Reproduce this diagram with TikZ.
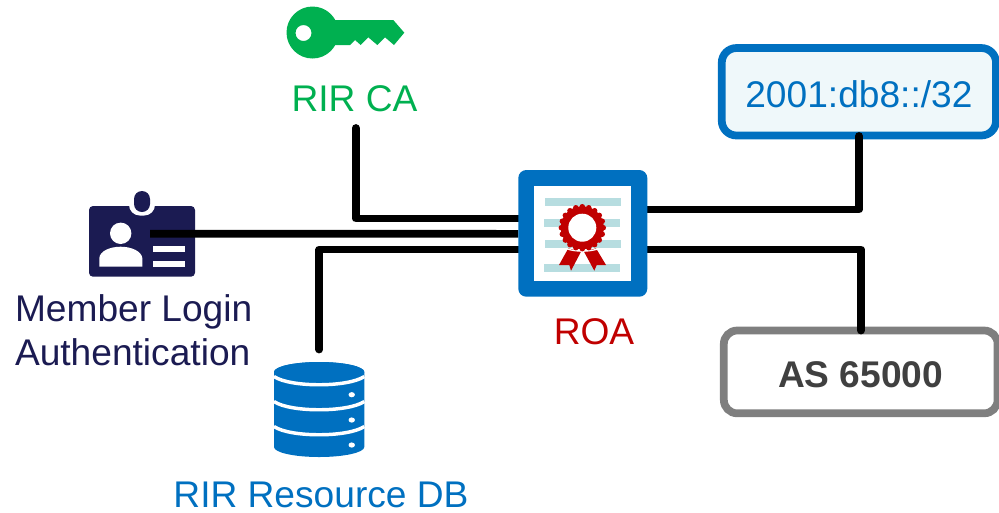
\documentclass[tikz,border=0pt]{standalone}
\usepackage{fontspec}
\setmainfont{Liberation Sans}
\usetikzlibrary{calc}
\definecolor{cgreen}{HTML}{00B050}
\definecolor{cblue}{HTML}{0070C0}
\definecolor{cnavy}{HTML}{1B1B52}
\definecolor{cred}{HTML}{C00000}
\definecolor{cteal}{HTML}{B7DDE0}
\definecolor{cpale}{HTML}{EFF8FA}
\definecolor{cgray}{HTML}{7F7F7F}
\definecolor{ctext}{HTML}{404040}
\tikzset{
  label text/.style={inner sep=0pt,outer sep=0pt,font=\fontsize{27.85}{32.4}\selectfont},
  wire/.style={draw=black,line width=5.8pt,line cap=round,line join=round},
  valuebox/.style={rounded corners=11pt,line width=5.8pt,outer sep=0pt,inner sep=0pt,align=center,font=\fontsize{27.85}{32.4}\selectfont},
}
\begin{document}
\begin{tikzpicture}[x=0.75pt,y=-0.75pt]
\useasboundingbox (0,0) rectangle (999,512);
% free ends
\coordinate (caEnd) at (355.7,128);
\coordinate (dbEnd) at (319.3,349.5);
\coordinate (badgeEnd) at (150,233.7);
% ROA frame
\node[draw=none,fill=none,minimum width=96.75pt,minimum height=95pt,inner sep=0pt,outer sep=0pt] (roa) at (582.75,233.5) {};
% value boxes
\node[valuebox,draw=cblue,fill=cpale,text=cblue,minimum width=205.7pt,minimum height=65.6pt,text height=23.4pt,text depth=0pt] (prefix) at (858.9,91.75) {2001:db8::/32};
\node[valuebox,draw=cgray,fill=white,text=ctext,minimum width=205.3pt,minimum height=62.1pt,rounded corners=10pt,text height=23.2pt,text depth=0pt,font=\fontsize{27.85}{32.4}\selectfont\bfseries] (asn) at (860.7,371.9) {AS 65000};
% badge
\fill[cnavy,rounded corners=3pt] (89,206) rectangle (195,276.7);
\fill[white,rounded corners=8pt] (129,190) rectangle (155,215.5);
\fill[cnavy,rounded corners=6pt] (134,191) rectangle (150,212);
\fill[white] (120.7,233.3) circle[radius=10.7];
\fill[white] (99.3,266.7) -- (99.3,258) .. controls (100,251) and (110,246.7) .. (120.7,246.7) .. controls (131,246.7) and (141.5,251) .. (142.3,258) -- (142.3,266.7) -- cycle;
\fill[white] (152.7,246) rectangle (185,251.7);
\fill[white] (152.7,261) rectangle (185,266.7);
% connectors
\draw[wire] (caEnd) |- ($(roa.north west)+(0,48.3)$);
\draw[wire,line cap=butt] (badgeEnd) -- ($(roa.north west)+(0,63.7)$);
\draw[wire] (dbEnd) |- ($(roa.north west)+(0,79.3)$);
\draw[wire] ($(roa.north east)+(0,39.3)$) -| ($(prefix.south)+(0.1,0.5)$);
\draw[wire] ($(roa.north east)+(0,79.3)$) -| ($(asn.north)+(0.3,0)$);
% ROA icon
\fill[cblue,rounded corners=6pt] (518.3,170) rectangle (647.3,296.7);
\fill[white] (534,186) rectangle (631.3,281);
\fill[cteal] (545,198) rectangle (620.7,205.7);
\fill[cteal] (544,219.3) rectangle (620,226.7);
\fill[cteal] (545,240.3) rectangle (620.7,248);
\fill[cteal] (544,264.3) rectangle (620,272.3);
\fill[cred] (568.3,248.3) -- (559,265) -- (569.3,265) -- (571,270.7) -- (581,251.7) -- cycle;
\fill[cred] (584,251.7) -- (594.3,270.7) -- (596.7,265) -- (606,265) -- (596,248.3) -- cycle;
\draw[white,line width=1pt] (566,248.5) .. controls (575,252) and (590,252) .. (599,248.5);
\fill[cred] (582.3,227.7) circle[radius=21.5];
\foreach \a in {0,18,...,342} \fill[cred] ($(582.3,227.7)+(\a:15.7pt)$) circle[radius=2.8];
\fill[white] (582.3,227.7) circle[radius=14];
% key
\fill[cgreen,even odd rule] (312.5,32.5) circle[radius=26] (303.5,33) circle[radius=8];
\fill[cgreen] (335,20) -- (393.3,20) -- (404.3,32.7) -- (394,45) -- (385,37.3) -- (377.3,45) -- (368.3,37.3) -- (360.7,45) -- (355,40) -- (350,45) -- (335,45) -- cycle;
\node[label text,text=cgreen] (rirca) at (354.5,98.5) {RIR CA};
\node[label text,text=cnavy,align=left,anchor=north west] (member) at (15,295) {Member Login\\Authentication};
% database
\fill[cblue] (274,372) arc[start angle=180,end angle=360,x radius=45.15,y radius=10] -- (364.3,447) arc[start angle=0,end angle=180,x radius=45.15,y radius=10] -- cycle;
\fill[cblue] (319.15,372) ellipse[x radius=45.15,y radius=10];
\foreach \yy in {376.5,401.5,426.5}
  \draw[white,line width=2.6pt] (274,\yy) .. controls (290,\yy+11) and (348,\yy+11) .. (364.3,\yy);
\foreach \yy in {394.7,420,445}
  \fill[white] (351.7,\yy) ellipse[x radius=3.2,y radius=2.6];
\node[label text,text=cblue] (dblabel) at (321,494.5) {RIR Resource DB};
\node[label text,text=cred] (roalabel) at (594,332) {ROA};
\end{tikzpicture}
\end{document}
